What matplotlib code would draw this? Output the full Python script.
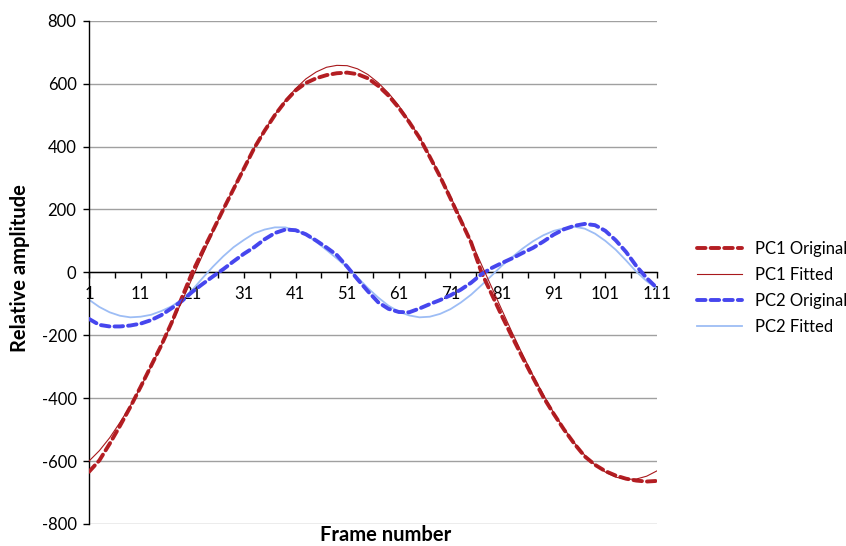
import numpy as np
import matplotlib
matplotlib.use("Agg")
import matplotlib.pyplot as plt
from matplotlib.ticker import MultipleLocator, FixedLocator

plt.rcParams['font.family'] = ['Lato', 'DejaVu Sans']
plt.rcParams['axes.unicode_minus'] = False

# frame numbers (every second frame)
frames = list(range(1, 112, 2))

pc1_original = [-634, -598, -545, -488, -428, -364, -298, -232, -160, -80,
                0, 67, 133, 200, 265, 330, 395, 450, 500, 543,
                578, 602, 617, 627, 633, 635, 630, 617, 593, 562,
                523, 478, 428, 367, 304, 235, 165, 95, 0, -70,
                -140, -207, -272, -335, -397, -450, -500, -545, -585, -612,
                -632, -646, -656, -662, -665, -663]

pc1_fitted = [-600, -567, -526, -477, -424, -365, -301, -234, -164, -92,
              -18, 55, 128, 199, 268, 333, 395, 451, 502, 546,
              584, 615, 637, 652, 658, 657, 647, 629, 603, 570,
              530, 482, 430, 371, 308, 242, 172, 99, 25, -48,
              -121, -193, -262, -328, -389, -446, -497, -542, -581, -612,
              -635, -651, -658, -657, -648, -631]

pc2_original = [-148, -167, -172, -172, -169, -163, -152, -136, -114, -91,
                -62, -37, -13, 10, 35, 59, 80, 105, 125, 136,
                134, 121, 101, 79, 55, 18, -22, -60, -95, -116,
                -126, -127, -115, -101, -88, -73, -55, -33, -6, 14,
                30, 45, 62, 78, 98, 120, 137, 148, 154, 150,
                132, 102, 65, 20, -18, -50]

pc2_fitted = [-87, -110, -127, -138, -143, -141, -135, -123, -108, -86,
              -56, -18, 18, 51, 80, 103, 124, 136, 143, 143,
              134, 120, 97, 71, 44, 16, -16, -50, -80, -106,
              -125, -137, -143, -141, -132, -117, -96, -71, -41, -10,
              22, 49, 76, 99, 118, 132, 140, 145, 139, 123,
              100, 72, 38, 2, -28, -52]

fig = plt.figure(figsize=(8.46, 5.46), dpi=100)
ax = fig.add_axes([89/846, 1 - 524/546, (657 - 89)/846, (524 - 20.7)/546])

ax.plot(frames, pc1_original, color='#B41E23', lw=2.8, dashes=(2.2, 1.3),
        dash_capstyle='round', label='PC1 Original', zorder=3)
ax.plot(frames, pc1_fitted, color='#A8181C', lw=0.8, label='PC1 Fitted', zorder=4)
ax.plot(frames, pc2_original, color='#4646EE', lw=2.8, dashes=(2.2, 1.3),
        dash_capstyle='round', label='PC2 Original', zorder=3)
ax.plot(frames, pc2_fitted, color='#9DBDF5', lw=1.3, label='PC2 Fitted', zorder=2)

ax.set_xlim(1, 111)
ax.set_ylim(-800, 800)
ax.yaxis.set_major_locator(MultipleLocator(200))
ax.xaxis.set_major_locator(FixedLocator(list(range(1, 112, 10))))
ax.xaxis.set_minor_locator(FixedLocator(list(range(6, 112, 10))))
ax.grid(axis='y', color='#A0A0A0', lw=1)
ax.set_axisbelow(True)

ax.spines['top'].set_visible(False)
ax.spines['right'].set_visible(False)
ax.spines['bottom'].set_position(('data', 0))
ax.spines['bottom'].set_zorder(1)
for s in ['left', 'bottom']:
    ax.spines[s].set_color('black')
    ax.spines[s].set_linewidth(1)

ax.tick_params(axis='x', which='both', direction='out', length=4, width=1,
               labelsize=12, pad=5.5)
ax.tick_params(axis='y', direction='out', length=4.5, width=1,
               labelsize=12, pad=4.5)

fig.text(20/846, 1 - 268/546, 'Relative amplitude', rotation=90,
         ha='center', va='center', fontsize=14.5, fontweight='bold')
fig.text(386/846, 1 - 535/546, 'Frame number', ha='center', va='center',
         fontsize=14.5, fontweight='bold')

ax.legend(loc='center left', bbox_to_anchor=(697/846, 1 - 288/546),
          bbox_transform=fig.transFigure, frameon=False, fontsize=12,
          handlelength=2.7, handletextpad=0.75, labelspacing=0.6,
          borderpad=0, borderaxespad=0)

fig.savefig('out.png', dpi=100)
